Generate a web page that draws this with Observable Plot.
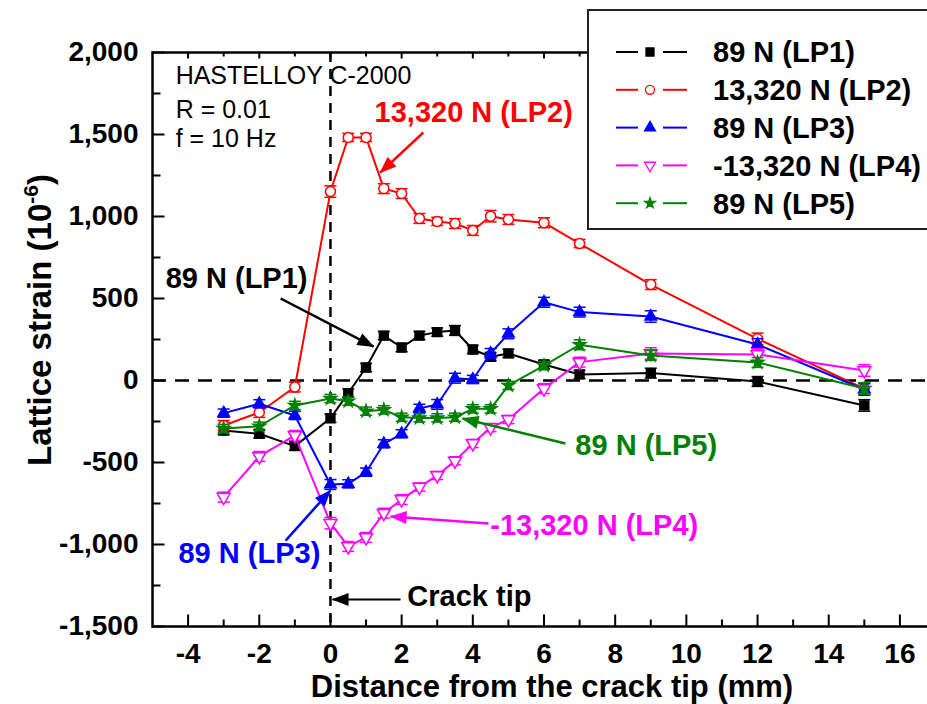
<!DOCTYPE html>
<html><head><meta charset="utf-8">
<script src="https://cdn.jsdelivr.net/npm/d3@7"></script>
<script src="https://cdn.jsdelivr.net/npm/@observablehq/plot@0.6"></script>
<style>
html,body{margin:0;padding:0;overflow:hidden;background:#fff;width:927px;height:704px;}
#wrap{position:relative;width:927px;height:704px;overflow:hidden;}
#wrap > svg{max-width:none !important;}
</style></head><body><div id="wrap"></div>
<script>
// ---- data ----
const distances = [-3,-2,-1,0,0.5,1,1.5,2,2.5,3,3.5,4,4.5,5,6,7,9,12,15];
const lp1 = [-305,-325,-400,-230,-77,79,274,201,274,295,305,189,145,165,98,37,45,-6,-152];
const lp2 = [-274,-195,-40,1152,1482,1482,1170,1140,988,970,957,915,1002,982,962,835,585,254,-49];
const lp3 = [-199,-142,-213,-634,-630,-559,-386,-325,-170,-146,14,6,165,285,477,417,390,220,-55];
const lp4 = [-711,-463,-335,-870,-1012,-957,-809,-726,-650,-579,-490,-384,-287,-238,-49,112,165,159,61];
const lp5 = [-293,-279,-152,-110,-126,-187,-179,-224,-228,-228,-224,-173,-173,-30,91,218,153,110,-49];
const err1 = [25,25,25,25,25,25,25,25,25,25,30,25,25,25,25,25,30,30,35];
const err2 = [30,30,30,35,25,25,30,30,30,25,30,30,35,30,30,25,30,35,35];
const err3 = [25,25,25,30,25,25,25,25,25,30,30,25,30,30,30,30,35,35,35];
const err4 = [30,30,30,35,30,30,30,30,25,25,25,25,25,25,30,30,35,35,35];
const err5 = [25,25,25,25,25,25,25,25,25,25,25,25,25,25,25,30,30,30,35];
const seriesNames = ["89 N (LP1)","13,320 N (LP2)","89 N (LP3)","-13,320 N (LP4)","89 N (LP5)"];
const seriesColors = ["#000000","#ff0000","#0000ff","#ff00ff","#008000"];

const xMajor = [-4,-2,0,2,4,6,8,10,12,14,16];
const xMinor = [-3,-1,1,3,5,7,9,11,13,15];
const yMajor = [-1500,-1000,-500,0,500,1000,1500,2000];
const yMinor = [-1250,-750,-250,250,750,1250,1750];

const infoLines = [
  {x:-4.35, y:1854, text:"HASTELLOY C-2000"},
  {x:-4.35, y:1649, text:"R = 0.01"},
  {x:-4.35, y:1473, text:"f = 10 Hz"}
];
const callouts = [
  {text:"13,320 N (LP2)", color:"#ff0000", tx:1.24, ty:1631, x1:2.61, y1:1512, x2:1.40, y2:1268},
  {text:"89 N (LP1)", color:"#000000", tx:-4.63, ty:622, x1:-1.40, y1:500, x2:1.21, y2:207},
  {text:"89 N (LP3)", color:"#0000ff", tx:-4.27, ty:-1055, x1:-1.26, y1:-976, x2:0.0, y2:-671},
  {text:"89 N (LP5)", color:"#008000", tx:6.88, ty:-396, x1:6.60, y1:-384, x2:3.71, y2:-232},
  {text:"-13,320 N (LP4)", color:"#ff00ff", tx:4.49, ty:-884, x1:4.44, y1:-872, x2:1.69, y2:-829},
  {text:"Crack tip", color:"#000000", tx:2.16, ty:-1317, x1:1.97, y1:-1335, x2:0.06, y2:-1335}
];

// ---- helpers ----
const fmt = d => d3.format(",")(d).replace("\u2212", "-");
const invTriangle = {draw(ctx, size){
  const y = -Math.sqrt(size / (Math.sqrt(3) * 3));
  ctx.moveTo(0, -2*y); ctx.lineTo(Math.sqrt(3)*y, y); ctx.lineTo(-Math.sqrt(3)*y, y); ctx.closePath();
}};
const seg = (dx, dy) => ({draw(ctx){ ctx.moveTo(0,0); ctx.lineTo(dx,dy); }});
const capSym = {draw(ctx){ ctx.moveTo(-6,0); ctx.lineTo(6,0); }};
function filledArrow(color) {
  const ns = "http://www.w3.org/2000/svg";
  const m = document.createElementNS(ns, "marker");
  m.setAttribute("viewBox", "-17 -8 18 16");
  m.setAttribute("markerWidth", "18");
  m.setAttribute("markerHeight", "16");
  m.setAttribute("refX", "0");
  m.setAttribute("refY", "0");
  m.setAttribute("markerUnits", "userSpaceOnUse");
  m.setAttribute("orient", "auto");
  const p = document.createElementNS(ns, "path");
  p.setAttribute("d", "M-16,-6.5L1,0L-16,6.5Z");
  p.setAttribute("fill", color);
  p.setAttribute("stroke", "none");
  m.appendChild(p);
  return m;
}

const values = [lp1, lp2, lp3, lp4, lp5];
const errs = [err1, err2, err3, err4, err5];
const symbols = ["square", "circle", "triangle", invTriangle, "star"];
const radii = [5, 5, 4.3, 4.8, 3.9];
const fills = ["#000000", "white", "#0000ff", "white", "#008000"];

const marks = [
  Plot.ruleY([0], {stroke:"black", strokeWidth:2.5, strokeDasharray:"14,9"}),
  Plot.ruleX([0], {stroke:"black", strokeWidth:2.5, strokeDasharray:"10,7"}),
];
values.forEach((vals, s) => {
  const rows = distances.map((x, i) => ({x, y: vals[i], e: errs[s][i]}));
  const c = seriesColors[s];
  marks.push(
    Plot.line(rows, {x:"x", y:"y", stroke:c, strokeWidth:2}),
    Plot.ruleX(rows, {x:"x", y1:d => d.y - d.e, y2:d => d.y + d.e, stroke:c, strokeWidth:1.5}),
    Plot.dot(rows, {x:"x", y:d => d.y - d.e, symbol:capSym, stroke:c, strokeWidth:1.5, fill:"none"}),
    Plot.dot(rows, {x:"x", y:d => d.y + d.e, symbol:capSym, stroke:c, strokeWidth:1.5, fill:"none"}),
    Plot.dot(rows, {x:"x", y:"y", symbol:symbols[s], r:radii[s], fill:fills[s], stroke:c, strokeWidth:1.5})
  );
});
// ticks pointing inward
marks.push(
  Plot.dot(xMajor, {x:d => d, frameAnchor:"bottom", symbol:seg(0,-12), stroke:"black", strokeWidth:2, fill:"none"}),
  Plot.dot(xMinor, {x:d => d, frameAnchor:"bottom", symbol:seg(0,-7), stroke:"black", strokeWidth:2, fill:"none"}),
  Plot.dot(xMajor, {x:d => d, frameAnchor:"top", symbol:seg(0,6), stroke:"black", strokeWidth:2, fill:"none"}),
  Plot.dot(xMinor, {x:d => d, frameAnchor:"top", symbol:seg(0,4), stroke:"black", strokeWidth:2, fill:"none"}),
  Plot.dot(yMajor, {y:d => d, frameAnchor:"left", symbol:seg(12,0), stroke:"black", strokeWidth:2, fill:"none"}),
  Plot.dot(yMinor, {y:d => d, frameAnchor:"left", symbol:seg(8,0), stroke:"black", strokeWidth:2, fill:"none"}),
  Plot.frame({stroke:"black", strokeWidth:2.5}),
  Plot.text(infoLines, {x:"x", y:"y", text:"text", textAnchor:"start", fontSize:25, fontWeight:"normal", fill:"black"})
);
callouts.forEach(a => {
  marks.push(
    Plot.link([a], {x1:"x1", y1:"y1", x2:"x2", y2:"y2", stroke:a.color, strokeWidth: a.text === "Crack tip" ? 2 : 2.5, markerEnd: filledArrow}),
    Plot.text([a], {x:"tx", y:"ty", text:"text", textAnchor:"start", fontSize:29, fontWeight:"bold", fill:a.color})
  );
});

const chart = Plot.plot({
  width: 937, height: 704,
  marginLeft: 152, marginRight: 2, marginTop: 52, marginBottom: 78,
  x: {domain:[-5,17], ticks:xMajor, tickSize:0, tickPadding:17, tickFormat:fmt, label:null},
  y: {domain:[-1500,2000], ticks:yMajor, tickSize:0, tickPadding:14, tickFormat:fmt, label:null},
  style: {fontFamily:"'Liberation Sans', Arial, sans-serif", fontSize:"28px", fontWeight:"bold", color:"black", background:"white", overflow:"visible", maxWidth:"none"},
  marks
});
chart.style.maxWidth = "none";
chart.style.width = "937px";
chart.style.height = "704px";
document.getElementById("wrap").appendChild(chart);

// axis titles
const svg = d3.select(chart);
svg.append("text")
  .attr("x", 552).attr("y", 697)
  .attr("text-anchor", "middle")
  .attr("font-size", 31).attr("font-weight", "bold").attr("fill", "black")
  .text("Distance from the crack tip (mm)");
const yl = svg.append("text")
  .attr("transform", "translate(51,320) rotate(-90)")
  .attr("text-anchor", "middle")
  .attr("font-size", 33).attr("font-weight", "bold").attr("fill", "black");
yl.append("tspan").text("Lattice strain (10");
yl.append("tspan").attr("font-size", 21).attr("dy", -13).text("-6");
yl.append("tspan").attr("dy", 13).text(")");

// legend (drawn over the plot's upper-right corner)
const lg = d3.select("#wrap").append("svg")
  .attr("width", 345).attr("height", 224)
  .style("position", "absolute").style("left", "587px").style("top", "9px")
  .style("font-family", "'Liberation Sans', Arial, sans-serif");
lg.append("rect").attr("x", 1).attr("y", 1).attr("width", 370).attr("height", 219)
  .attr("fill", "white").attr("stroke", "#222").attr("stroke-width", 2);
const legSym = [d3.symbolSquare, d3.symbolCircle, d3.symbolTriangle, invTriangle, d3.symbolStar];
const legSize = [64, 64, 52, 52, 34];
seriesNames.forEach((name, i) => {
  const g = lg.append("g").attr("transform", `translate(0,${43 + i * 37.8})`);
  const c = seriesColors[i];
  g.append("line").attr("x1", 29).attr("x2", 51).attr("stroke", c).attr("stroke-width", 2);
  g.append("line").attr("x1", 76).attr("x2", 100).attr("stroke", c).attr("stroke-width", 2);
  g.append("path").attr("transform", "translate(63,0)")
    .attr("d", d3.symbol().type(legSym[i]).size(legSize[i])())
    .attr("fill", fills[i]).attr("stroke", c).attr("stroke-width", 1.3);
  g.append("text").attr("x", 126).attr("dy", "0.36em")
    .attr("font-size", 29).attr("font-weight", "bold").attr("fill", "black").text(name);
});
</script></body></html>
